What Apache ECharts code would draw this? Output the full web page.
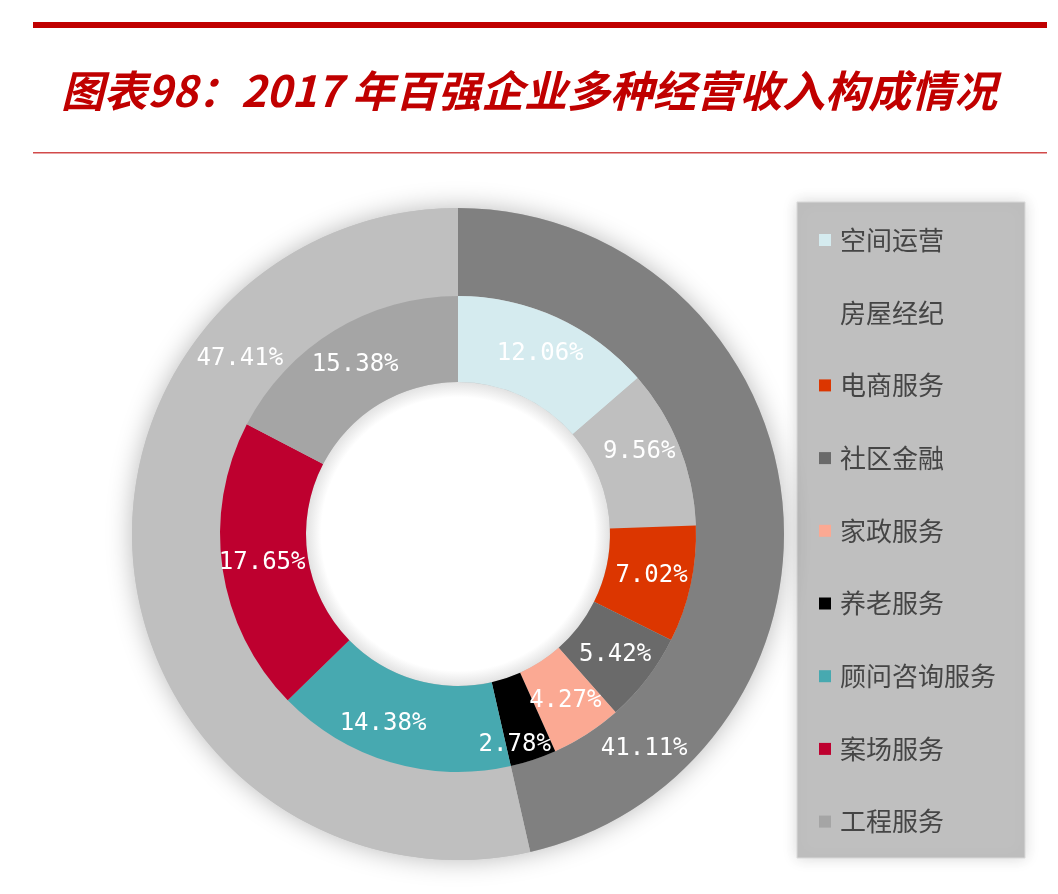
<!DOCTYPE html>
<html><head><meta charset="utf-8">
<script src="https://cdn.jsdelivr.net/npm/echarts@6/dist/echarts.min.js"></script>
<style>html,body{margin:0;padding:0;background:#fff;}#c{width:1058px;height:894px;}</style>
</head><body><div id="c"></div>
<script>
const categories = ['空间运营','房屋经纪','电商服务','社区金融','家政服务','养老服务','顾问咨询服务','案场服务','工程服务'];
const innerValues = [12.06, 9.56, 7.02, 5.42, 4.27, 2.78, 14.38, 17.65, 15.38];
const innerColors = ['#d5ebef','#bfbfbf','#dc3600','#6a6a6a','#fba993','#000000','#47a9b0','#be002f','#a5a5a5'];
const outerNames = ['外环一','外环二'];
const outerValues = [41.11, 47.41];
const outerColors = ['#808080','#bfbfbf'];
const titleText = '图表98：2017 年百强企业多种经营收入构成情况';

// label nudges (styling only)
const innerLabelOffsets = {1:[-3,-10],5:[-6,23],6:[-19,0]};
const outerLabelOffsets = {0:[-97,247],1:[65,-207]};

const labelFont = {color:'#fff', fontSize:24, fontFamily:'DejaVu Sans Mono', fontWeight:'normal'};
const fmt = p => p.value.toFixed(2) + '%';

const chart = echarts.init(document.getElementById('c'));
chart.setOption({
  backgroundColor:'#fff',
  animation:false,
  title:{text:titleText, left:56, top:64,
    textStyle:{color:'#c00000', fontSize:43, fontStyle:'italic', fontWeight:'bold', fontFamily:'Noto Sans CJK SC'}},
  graphic:[
    {type:'rect', shape:{x:33,y:22,width:1014,height:6}, style:{fill:'#c00000'}},
    {type:'rect', shape:{x:33,y:152,width:1014,height:1.5}, style:{fill:'#d24a4a'}},
    {type:'rect', z:0, shape:{x:797,y:202,width:228,height:656}, style:{fill:'#bfbfbf', stroke:'#d9d9d9', lineWidth:1, shadowBlur:14, shadowColor:'rgba(0,0,0,0.15)'}},
    {type:'circle', z:0, shape:{cx:458,cy:534,r:326}, style:{fill:'#bfbfbf', shadowBlur:26, shadowColor:'rgba(0,0,0,0.28)'}},
    {type:'circle', z:0, shape:{cx:458,cy:534,r:152}, style:{fill:new echarts.graphic.RadialGradient(0.5,0.5,0.5,[{offset:0,color:'#ffffff'},{offset:0.9,color:'#ffffff'},{offset:1,color:'#e2e2e2'}])}}
  ],
  legend:{
    orient:'vertical', left:819, top:227, padding:0,
    itemWidth:12, itemHeight:12, icon:'rect', itemGap:46.7,
    data:categories,
    textStyle:{color:'#454545', fontSize:26, lineHeight:26, fontFamily:'Noto Sans CJK SC', padding:[0,0,0,4]}
  },
  series:[
    {
      type:'pie', z:3, center:[458,534], radius:[238,326], startAngle:90, clockwise:true,
      silent:true, avoidLabelOverlap:false,
      label:Object.assign({show:true, position:'inside', formatter:fmt}, labelFont),
      labelLine:{show:false},
      data:outerValues.map((v,i)=>({name:outerNames[i], value:v, itemStyle:{color:outerColors[i]},
        label: outerLabelOffsets[i] ? {offset:outerLabelOffsets[i]} : undefined}))
    },
    {
      type:'pie', z:4, center:[458,534], radius:[152,238], startAngle:90, clockwise:true,
      silent:true, avoidLabelOverlap:false,
      label:Object.assign({show:true, position:'inside', formatter:fmt}, labelFont),
      labelLine:{show:false},
      data:innerValues.map((v,i)=>({name:categories[i], value:v, itemStyle:{color:innerColors[i]},
        label: innerLabelOffsets[i] ? {offset:innerLabelOffsets[i]} : undefined}))
    }
  ]
});
</script></body></html>
